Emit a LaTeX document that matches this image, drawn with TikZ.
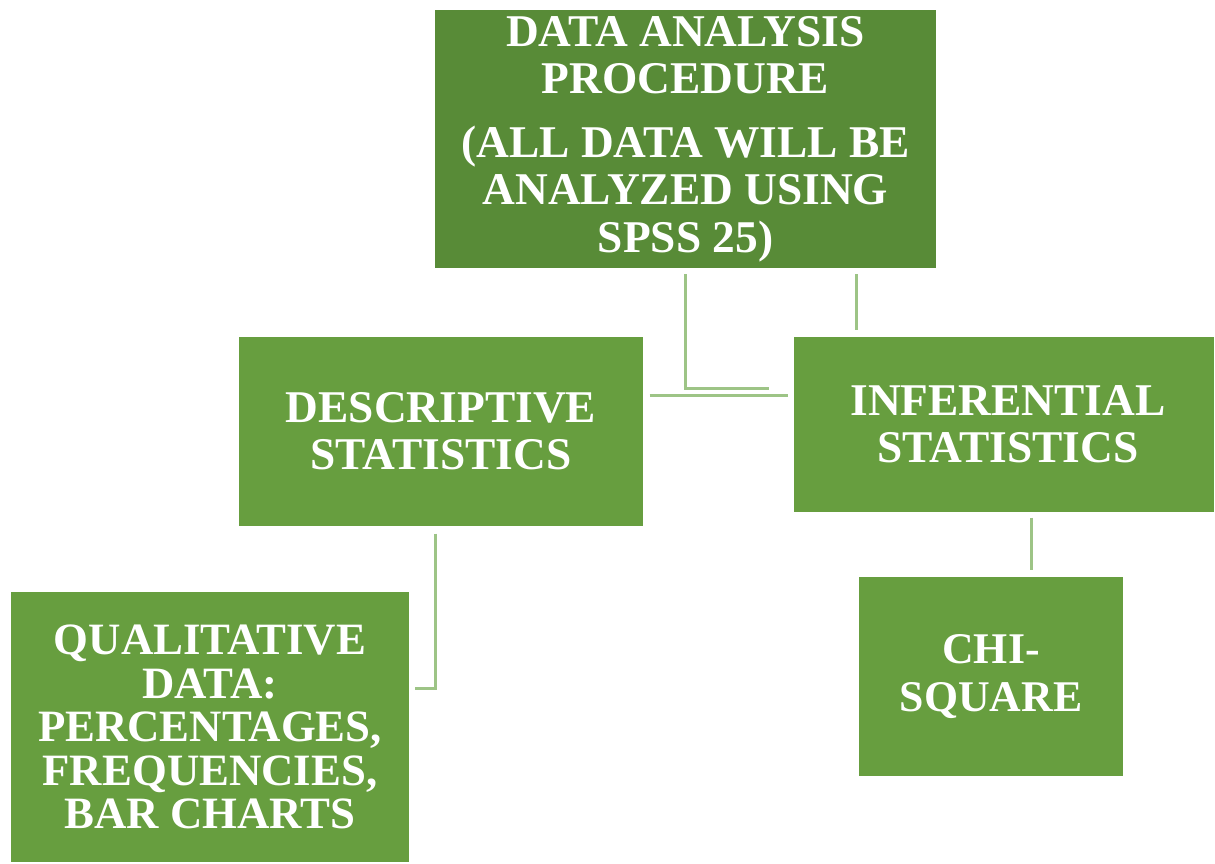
\documentclass[tikz,border=0pt]{standalone}
\usepackage{fontspec}
\setmainfont{Liberation Serif}
\definecolor{darkleaf}{HTML}{588B37}
\definecolor{leaf}{HTML}{679E3F}
\definecolor{paleleaf}{HTML}{9DC486}
\begin{document}
\begin{tikzpicture}[x=0.5pt, y=-0.5pt,
		box/.style={fill=leaf, draw=white, line width=0.6pt, text=white, align=center, inner sep=0pt,
			font=\bfseries\fontsize{22.7}{23.6}\selectfont},
		topbox/.style={box, fill=darkleaf},
		link/.style={draw=paleleaf, line width=1.5pt}]
		\useasboundingbox (0,0) rectangle (1215,863);
		
		% Top box
		\node[topbox, minimum width=251.5pt, minimum height=129.5pt] (top) at (685.5, 139)
			{DATA ANALYSIS\\PROCEDURE\\[8.5pt](ALL DATA WILL BE\\ANALYZED USING\\SPSS 25)};
		
		% Second level
		\node[box, minimum width=203pt, minimum height=95.5pt] (desc) at (441, 431.5)
			{DESCRIPTIVE\\STATISTICS};
		\node[box, minimum width=211pt, minimum height=88.5pt] (inf) at (1004, 424.5)
			{\hspace*{4pt}INFERENTIAL\\\hspace*{4pt}STATISTICS};
		
		% Third level
		\node[box, minimum width=200pt, minimum height=136pt, font=\bfseries\fontsize{22.4}{21.8}\selectfont] (qual) at (210, 727)
			{QUALITATIVE\\DATA:\\PERCENTAGES,\\FREQUENCIES,\\BAR CHARTS};
		\node[box, minimum width=133pt, minimum height=100.5pt, font=\bfseries\fontsize{21.9}{23.6}\selectfont] (chi) at (991, 676.5)
			{CHI-\\SQUARE};
		
		% Connectors
		\coordinate (elbow) at (769, 388);
		\coordinate (mid) at (720, 395);
		\draw[link, shorten <=2.5pt] (top.south) |- (elbow);
		\draw[link, shorten <=2.5pt, shorten >=2pt] (desc.east |- mid) -- (inf.west |- mid);
		\draw[link, shorten <=2.5pt, shorten >=2.5pt] ([xshift=85.25pt]top.south) -- ([xshift=-74pt]inf.north);
		\draw[link, shorten <=3pt, shorten >=2pt] ([xshift=-3pt]desc.south) |- ([yshift=19.5pt]qual.east);
		\draw[link, shorten <=2pt, shorten >=2.5pt] ([xshift=13.5pt]inf.south) -- ([xshift=20pt]chi.north);
	\end{tikzpicture}
\end{document}
